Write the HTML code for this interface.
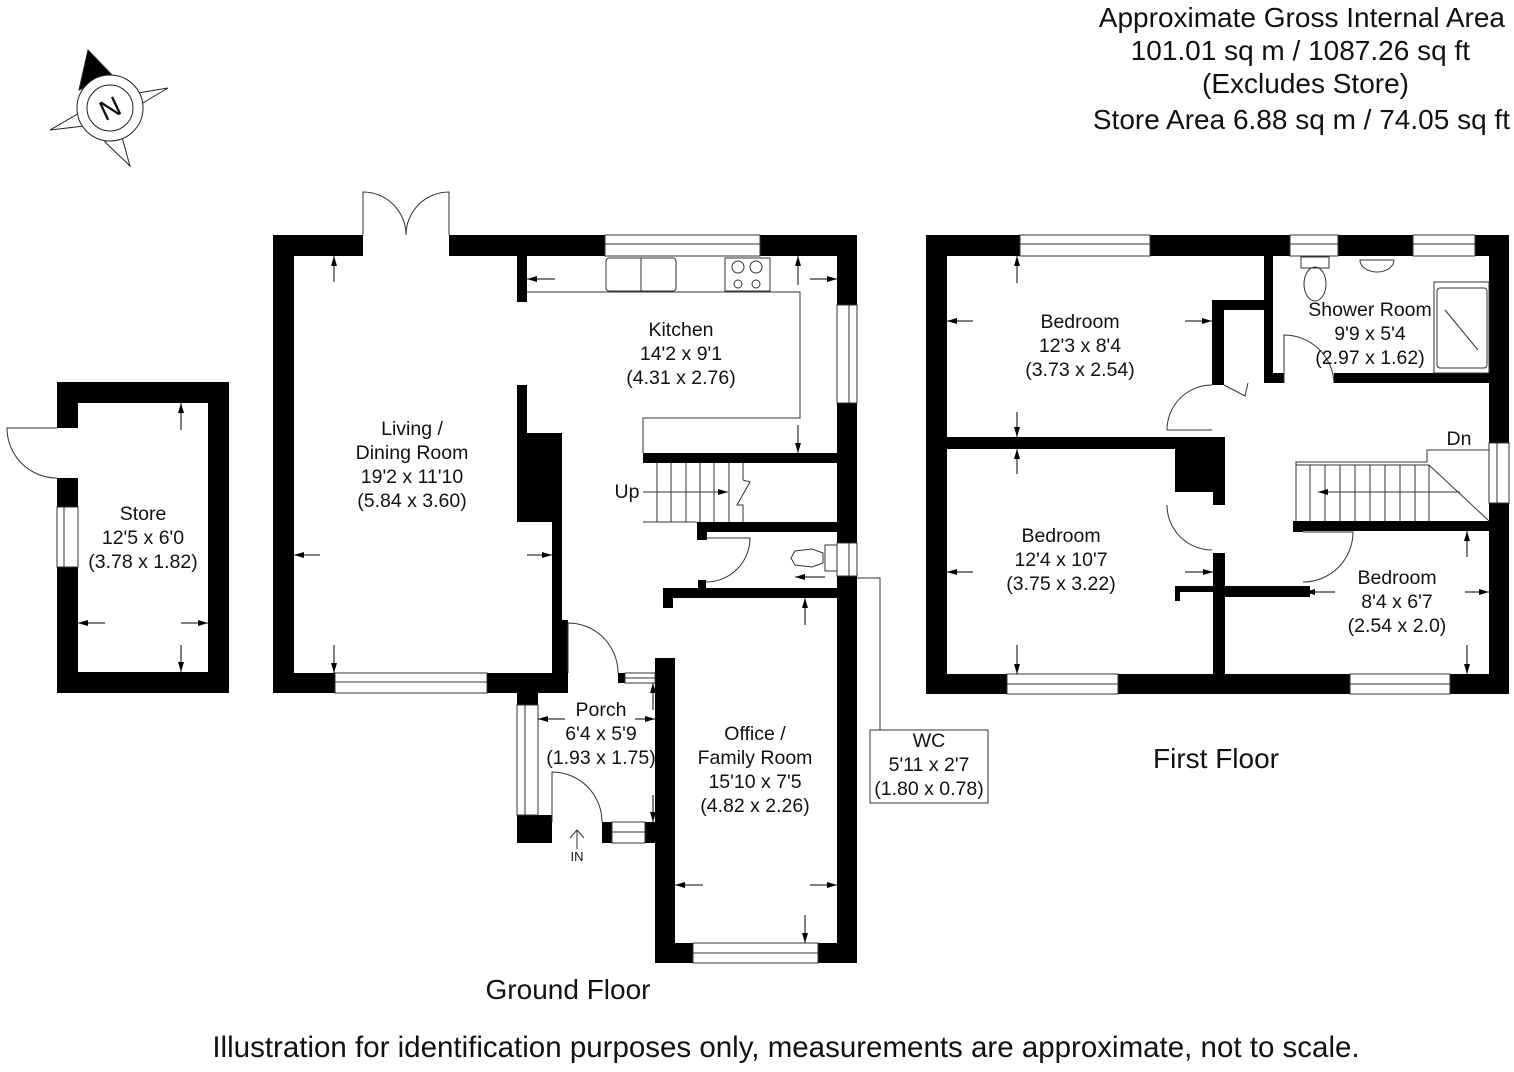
<!DOCTYPE html>
<html><head><meta charset="utf-8"><style>
html,body{margin:0;padding:0;background:#fff;}
svg{display:block;}
text{font-family:"Liberation Sans",sans-serif;fill:#111;}
</style></head><body>
<svg width="1514" height="1072" viewBox="0 0 1514 1072" xmlns="http://www.w3.org/2000/svg">
<defs>
<marker id="ah" markerWidth="10" markerHeight="6" refX="10" refY="3" orient="auto" markerUnits="userSpaceOnUse"><path d="M0,0 L10,3 L0,6 z" fill="#000"/></marker>
</defs>
<!-- Title -->
<g font-size="28" text-anchor="end">
<text x="1505" y="27">Approximate Gross Internal Area</text>
<text x="1470" y="60" >101.01 sq m / 1087.26 sq ft</text>
<text x="1409" y="93">(Excludes Store)</text>
<text x="1510" y="129">Store Area 6.88 sq m / 74.05 sq ft</text>
</g>
<!-- Compass -->
<g stroke="#222" stroke-width="1" fill="#fff">
<polygon points="50,130 88,108 93,125"/>
<polygon points="168,88 126,95 131,110"/>
<polygon points="130,166 120,130 105,142"/>
<polygon points="88,50 79,90 112,75" fill="#000"/>
<circle cx="110" cy="108" r="33"/>
<circle cx="110" cy="108" r="23"/>
</g>
<text x="110" y="118" font-size="28" text-anchor="middle" transform="rotate(-25 110 108)">N</text>

<!-- Store -->
<g fill="#000">
<rect x="57" y="382" width="172" height="21"/>
<rect x="57" y="672" width="172" height="21"/>
<rect x="208" y="382" width="21" height="311"/>
<rect x="57" y="382" width="21" height="46"/>
<rect x="57" y="478" width="21" height="29"/>
<rect x="57" y="567" width="21" height="126"/>
</g>
<g fill="none" stroke="#333" stroke-width="1">
<rect x="57" y="507" width="21" height="60"/><line x1="64" y1="507" x2="64" y2="567"/>
<path d="M57,428 L7,428 A50,50 0 0 0 57,478"/>
</g>

<!-- Ground floor walls -->
<g fill="#000">
<rect x="273" y="235" width="90" height="21"/>
<rect x="449" y="235" width="156" height="21"/>
<rect x="760" y="235" width="97" height="21"/>
<rect x="273" y="235" width="21" height="458"/>
<rect x="273" y="673" width="62" height="20"/>
<rect x="487" y="673" width="81" height="20"/>
<rect x="837" y="235" width="20" height="70"/>
<rect x="837" y="403" width="20" height="140"/>
<rect x="837" y="576" width="20" height="387"/>
<rect x="517" y="256" width="10" height="46"/>
<rect x="517" y="385" width="10" height="137"/>
<rect x="517" y="433" width="45" height="89"/>
<rect x="552" y="433" width="10" height="240"/>
<rect x="643" y="453" width="194" height="10"/>
<rect x="697" y="522" width="140" height="10"/>
<rect x="697" y="522" width="10" height="18"/>
<rect x="663" y="588" width="174" height="10"/>
<rect x="663" y="588" width="10" height="20"/>
<rect x="698" y="580" width="8" height="8"/>
<rect x="555" y="620" width="13" height="53"/>
<rect x="618" y="673" width="7" height="10"/>
<rect x="655" y="658" width="20" height="305"/>
<rect x="517" y="693" width="21" height="12"/>
<rect x="517" y="815" width="35" height="28"/>
<rect x="602" y="822" width="10" height="21"/>
<rect x="645" y="822" width="20" height="21"/>
<rect x="655" y="943" width="38" height="20"/>
<rect x="818" y="943" width="39" height="20"/>
</g>
<g fill="none" stroke="#333" stroke-width="1">
<rect x="605" y="235" width="155" height="21"/><line x1="605" y1="244" x2="760" y2="244"/>
<rect x="335" y="673" width="152" height="20"/><line x1="335" y1="682" x2="487" y2="682"/>
<rect x="837" y="305" width="20" height="98"/><line x1="849" y1="305" x2="849" y2="403"/>
<rect x="837" y="543" width="20" height="33"/><line x1="849" y1="543" x2="849" y2="576"/>
<rect x="625" y="673" width="30" height="10"/><line x1="625" y1="678" x2="655" y2="678"/>
<rect x="517" y="705" width="21" height="110"/><line x1="525" y1="705" x2="525" y2="815"/>
<rect x="612" y="822" width="33" height="21"/><line x1="612" y1="832" x2="645" y2="832"/>
<rect x="693" y="943" width="125" height="20"/><line x1="693" y1="953" x2="818" y2="953"/>
<path d="M363,235 L363,192 A43,43 0 0 1 406,235"/>
<path d="M449,235 L449,192 A43,43 0 0 0 406,235"/>
<path d="M527,292 L800,292 L800,418 L643,418 L643,453"/>
<rect x="606" y="258" width="70" height="33" rx="3"/>
<line x1="641" y1="258" x2="641" y2="291"/>
<rect x="725" y="258" width="45" height="33"/>
<circle cx="738" cy="267" r="6"/><circle cx="756" cy="267" r="6"/>
<circle cx="738" cy="284" r="4"/><circle cx="756" cy="284" r="4"/>
<line x1="643" y1="522" x2="697" y2="522"/>
<line x1="657" y1="463" x2="657" y2="522"/><line x1="671" y1="463" x2="671" y2="522"/>
<line x1="686" y1="463" x2="686" y2="522"/><line x1="700" y1="463" x2="700" y2="522"/>
<line x1="714" y1="463" x2="714" y2="522"/><line x1="729" y1="463" x2="729" y2="522"/>
<line x1="743" y1="463" x2="743" y2="480"/>
<path d="M743,480 L750,482 L737,505 L743,505 L743,522"/>
<line x1="643" y1="492" x2="728" y2="492" marker-end="url(#ah)"/>
<path d="M706,538 L750,538 A44,44 0 0 1 706,582"/>
<rect x="825" y="545" width="12" height="26"/>
<path d="M791,558 L795,551 L812,549 L823,553 L823,563 L812,567 L795,565 Z"/>
<path d="M568,673 L568,623 A50,50 0 0 1 618,673"/>
<path d="M552,822 L552,772 A50,50 0 0 1 602,822"/>
<polyline points="857,578 880,578 880,730"/>
<rect x="870" y="730" width="118" height="73"/>
<line x1="577" y1="849" x2="577" y2="830"/><path d="M570,838 L577,830 L584,838"/>
</g>
<g stroke="#000" stroke-width="1" marker-end="url(#ah)">
<line x1="334" y1="282" x2="334" y2="256"/>
<line x1="334" y1="645" x2="334" y2="673"/>
<line x1="320" y1="555" x2="294" y2="555"/>
<line x1="527" y1="555" x2="552" y2="555"/>
<line x1="555" y1="279" x2="527" y2="279"/>
<line x1="810" y1="279" x2="837" y2="279"/>
<line x1="798" y1="285" x2="798" y2="256"/>
<line x1="798" y1="425" x2="798" y2="453"/>
<line x1="825" y1="577" x2="795" y2="577"/>
<line x1="805" y1="625" x2="805" y2="598"/>
<line x1="805" y1="915" x2="805" y2="943"/>
<line x1="703" y1="885" x2="675" y2="885"/>
<line x1="810" y1="885" x2="837" y2="885"/>
<line x1="565" y1="719" x2="538" y2="719"/>
<line x1="635" y1="719" x2="655" y2="719"/>
<line x1="653" y1="710" x2="653" y2="683"/>
<line x1="653" y1="795" x2="653" y2="822"/>
<line x1="181" y1="430" x2="181" y2="403"/>
<line x1="181" y1="645" x2="181" y2="672"/>
<line x1="105" y1="623" x2="78" y2="623"/>
<line x1="181" y1="623" x2="208" y2="623"/>
</g>

<!-- First floor walls -->
<g fill="#000">
<rect x="926" y="235" width="94" height="21"/>
<rect x="1150" y="235" width="140" height="21"/>
<rect x="1338" y="235" width="75" height="21"/>
<rect x="1475" y="235" width="34" height="21"/>
<rect x="926" y="235" width="21" height="459"/>
<rect x="1489" y="235" width="20" height="208"/>
<rect x="1489" y="503" width="20" height="191"/>
<rect x="926" y="674" width="81" height="20"/>
<rect x="1118" y="674" width="232" height="20"/>
<rect x="1450" y="674" width="59" height="20"/>
<rect x="946" y="437" width="244" height="12"/>
<rect x="1175" y="437" width="50" height="55"/>
<rect x="1213" y="437" width="12" height="68"/>
<rect x="1213" y="553" width="12" height="121"/>
<rect x="1225" y="586" width="85" height="11"/>
<rect x="1175" y="586" width="38" height="6"/><rect x="1175" y="586" width="5" height="15"/>
<rect x="1212" y="300" width="12" height="85"/>
<rect x="1212" y="300" width="58" height="10"/>
<rect x="1264" y="256" width="9" height="127"/>
<rect x="1264" y="373" width="20" height="10"/>
<rect x="1334" y="373" width="155" height="10"/>
<rect x="1293" y="521" width="196" height="10"/>
<rect x="1293" y="521" width="10" height="11"/>
</g>
<g fill="none" stroke="#333" stroke-width="1">
<rect x="1020" y="235" width="130" height="21"/><line x1="1020" y1="244" x2="1150" y2="244"/>
<rect x="1290" y="235" width="48" height="21"/><line x1="1290" y1="244" x2="1338" y2="244"/>
<rect x="1413" y="235" width="62" height="21"/><line x1="1413" y1="244" x2="1475" y2="244"/>
<rect x="1007" y="674" width="111" height="20"/><line x1="1007" y1="684" x2="1118" y2="684"/>
<rect x="1350" y="674" width="100" height="20"/><line x1="1350" y1="684" x2="1450" y2="684"/>
<rect x="1489" y="443" width="20" height="60"/><line x1="1497" y1="443" x2="1497" y2="503"/>
<path d="M1212,385 A45,45 0 0 0 1167,430 L1212,430"/>
<path d="M1167,505 A45,45 0 0 0 1212,550"/>
<path d="M1303,532 L1353,532 A50,50 0 0 1 1303,582"/>
<path d="M1284,383 L1284,335 A50,50 0 0 1 1334,383"/>
<path d="M1224,385 L1245,396 L1248,383"/>
<path d="M1296,521 L1296,462 L1427,462 L1427,450 L1489,450"/>
<line x1="1310" y1="465" x2="1310" y2="521"/><line x1="1325" y1="465" x2="1325" y2="521"/>
<line x1="1340" y1="465" x2="1340" y2="521"/><line x1="1355" y1="465" x2="1355" y2="521"/>
<line x1="1370" y1="465" x2="1370" y2="521"/><line x1="1385" y1="465" x2="1385" y2="521"/>
<line x1="1400" y1="465" x2="1400" y2="521"/><line x1="1415" y1="465" x2="1415" y2="521"/>
<line x1="1429" y1="465" x2="1429" y2="521"/>
<line x1="1296" y1="465" x2="1429" y2="465"/>
<line x1="1429" y1="465" x2="1489" y2="521"/>
<line x1="1460" y1="492" x2="1318" y2="492" marker-end="url(#ah)"/>
<rect x="1434" y="282" width="55" height="91"/>
<rect x="1437" y="288" width="50" height="80" rx="3"/>
<line x1="1445" y1="310" x2="1478" y2="350"/>
<rect x="1301" y="257" width="28" height="11"/>
<ellipse cx="1315" cy="284" rx="11" ry="17"/>
<path d="M1360,260 L1394,260 A17,12 0 0 1 1360,260 Z"/>
</g>
<g stroke="#000" stroke-width="1" marker-end="url(#ah)">
<line x1="1017" y1="283" x2="1017" y2="256"/>
<line x1="1017" y1="412" x2="1017" y2="437"/>
<line x1="1017" y1="474" x2="1017" y2="449"/>
<line x1="1017" y1="645" x2="1017" y2="674"/>
<line x1="973" y1="321" x2="947" y2="321"/>
<line x1="1185" y1="321" x2="1212" y2="321"/>
<line x1="973" y1="572" x2="947" y2="572"/>
<line x1="1185" y1="572" x2="1213" y2="572"/>
<line x1="1335" y1="592" x2="1305" y2="592"/>
<line x1="1465" y1="592" x2="1489" y2="592"/>
<line x1="1467" y1="557" x2="1467" y2="531"/>
<line x1="1467" y1="645" x2="1467" y2="674"/>
</g>

<!-- Labels -->
<g font-size="19.5" text-anchor="middle">
<text x="681" y="336">Kitchen</text><text x="681" y="360">14'2 x 9'1</text><text x="681" y="384">(4.31 x 2.76)</text>
<text x="412" y="435">Living /</text><text x="412" y="459">Dining Room</text><text x="412" y="483">19'2 x 11'10</text><text x="412" y="507">(5.84 x 3.60)</text>
<text x="143" y="520">Store</text><text x="143" y="544">12'5 x 6'0</text><text x="143" y="568">(3.78 x 1.82)</text>
<text x="601" y="716">Porch</text><text x="601" y="740">6'4 x 5'9</text><text x="601" y="764">(1.93 x 1.75)</text>
<text x="755" y="740">Office /</text><text x="755" y="764">Family Room</text><text x="755" y="788">15'10 x 7'5</text><text x="755" y="812">(4.82 x 2.26)</text>
<text x="929" y="747">WC</text><text x="929" y="771">5'11 x 2'7</text><text x="929" y="795">(1.80 x 0.78)</text>
<text x="1080" y="328">Bedroom</text><text x="1080" y="352">12'3 x 8'4</text><text x="1080" y="376">(3.73 x 2.54)</text>
<text x="1370" y="316">Shower Room</text><text x="1370" y="340">9'9 x 5'4</text><text x="1370" y="364">(2.97 x 1.62)</text>
<text x="1061" y="542">Bedroom</text><text x="1061" y="566">12'4 x 10'7</text><text x="1061" y="590">(3.75 x 3.22)</text>
<text x="1397" y="584">Bedroom</text><text x="1397" y="608">8'4 x 6'7</text><text x="1397" y="632">(2.54 x 2.0)</text>
<text x="627" y="498">Up</text>
<text x="1459" y="445">Dn</text>
</g>
<text x="577" y="861" font-size="13" text-anchor="middle">IN</text>
<text x="568" y="999" font-size="28" text-anchor="middle">Ground Floor</text>
<text x="1216" y="768" font-size="28" text-anchor="middle">First Floor</text>
<text x="786" y="1057" font-size="29.5" text-anchor="middle">Illustration for identification purposes only, measurements are approximate, not to scale.</text>
</svg>
</body></html>
